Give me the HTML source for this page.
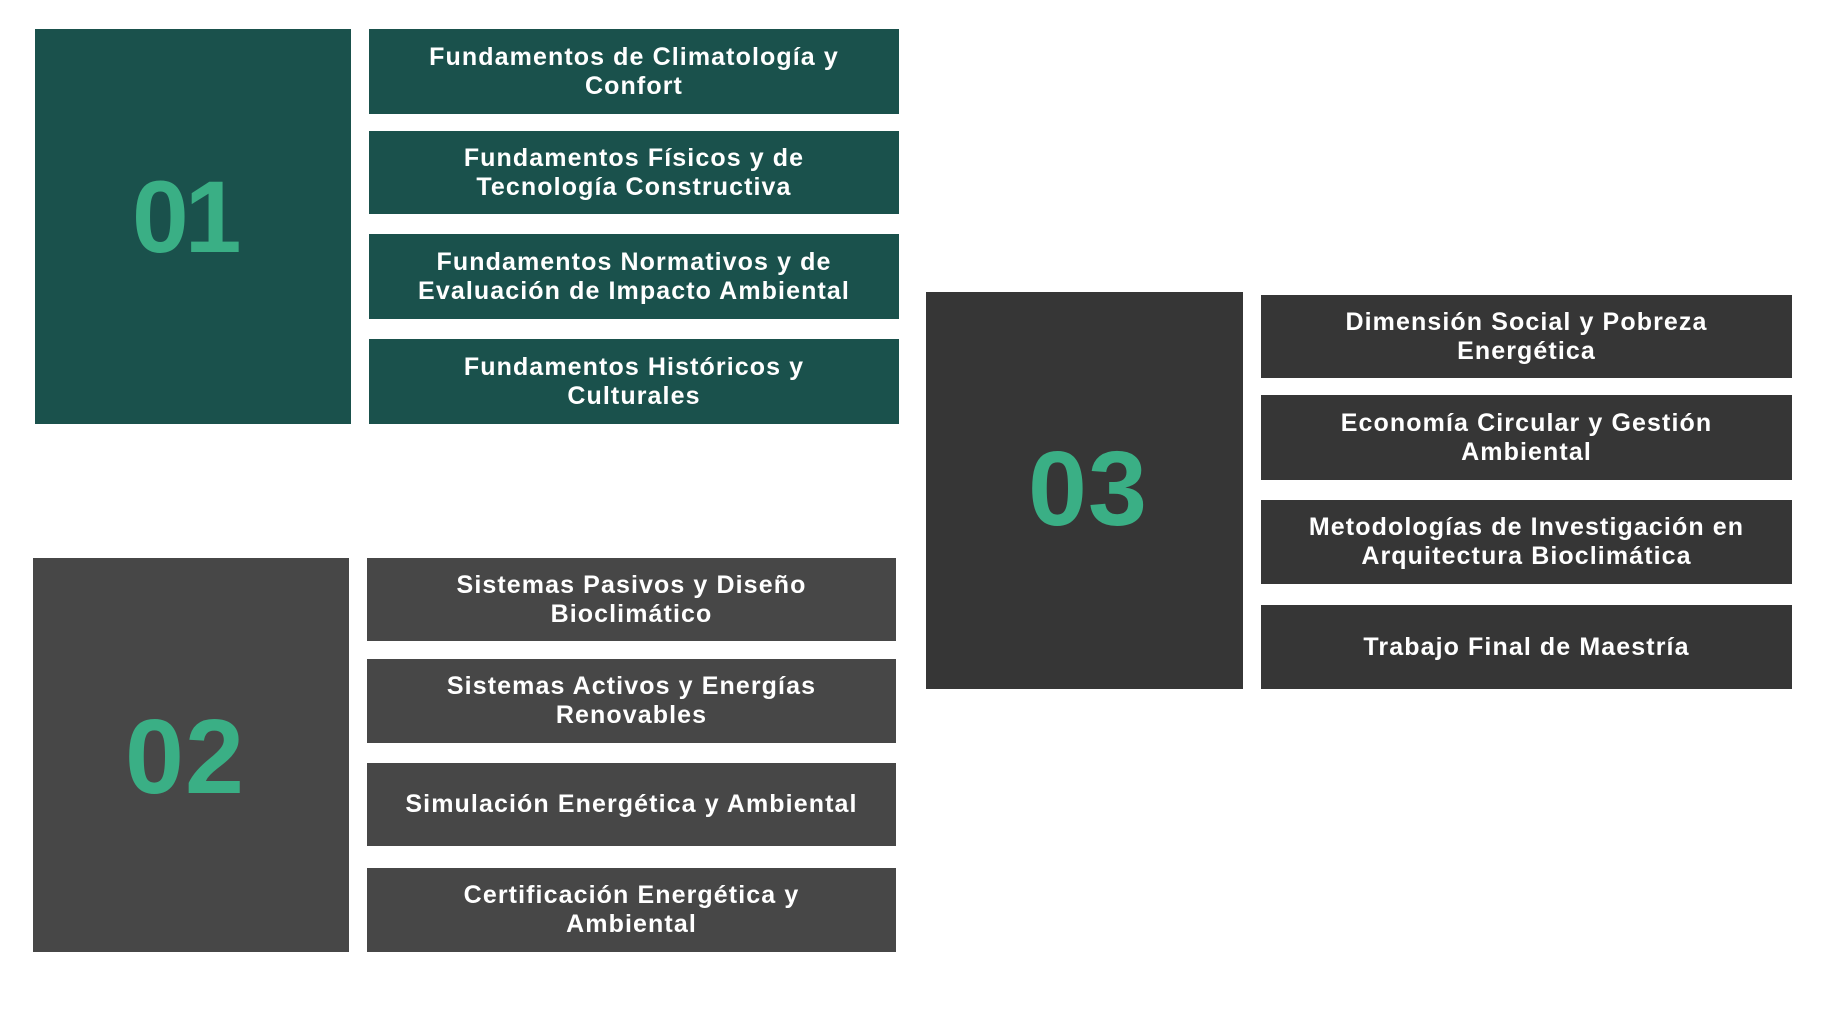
<!DOCTYPE html>
<html><head><meta charset="utf-8"><style>
body{margin:0;width:1834px;height:1021px;background:#fff;position:relative;overflow:hidden;font-family:"Liberation Sans",sans-serif}
.b{position:absolute}
.g{background:#1a514c}.d{background:#474747}.k{background:#363636}
.i{position:absolute;display:flex;align-items:center;justify-content:center;text-align:center;color:#fff;font-weight:bold;font-size:25px;line-height:29px;letter-spacing:1.1px}
.n{position:absolute;color:#3aaf85;font-weight:bold;font-size:102px;line-height:102px;letter-spacing:-4px}
</style></head><body>
<div class="b g" style="left:35px;top:29px;width:316px;height:395px"></div>
<div class="n" style="left:132px;top:166px">01</div>
<div class="i g" style="left:369px;top:29px;width:530px;height:85px">Fundamentos de Climatología y<br>Confort</div>
<div class="i g" style="left:369px;top:131px;width:530px;height:83px">Fundamentos Físicos y de<br>Tecnología Constructiva</div>
<div class="i g" style="left:369px;top:234px;width:530px;height:85px">Fundamentos Normativos y de<br>Evaluación de Impacto Ambiental</div>
<div class="i g" style="left:369px;top:339px;width:530px;height:85px">Fundamentos Históricos y<br>Culturales</div>

<div class="b d" style="left:33px;top:558px;width:316px;height:394px"></div>
<div class="n" style="left:125px;top:706px;letter-spacing:1px;font-size:106px">02</div>
<div class="i d" style="left:367px;top:558px;width:529px;height:83px">Sistemas Pasivos y Diseño<br>Bioclimático</div>
<div class="i d" style="left:367px;top:659px;width:529px;height:84px">Sistemas Activos y Energías<br>Renovables</div>
<div class="i d" style="left:367px;top:763px;width:529px;height:83px">Simulación Energética y Ambiental</div>
<div class="i d" style="left:367px;top:868px;width:529px;height:84px">Certificación Energética y<br>Ambiental</div>

<div class="b k" style="left:926px;top:292px;width:317px;height:397px"></div>
<div class="n" style="left:1028px;top:438px;letter-spacing:1px;font-size:106px">03</div>
<div class="i k" style="left:1261px;top:295px;width:531px;height:83px">Dimensión Social y Pobreza<br>Energética</div>
<div class="i k" style="left:1261px;top:395px;width:531px;height:85px">Economía Circular y Gestión<br>Ambiental</div>
<div class="i k" style="left:1261px;top:500px;width:531px;height:84px">Metodologías de Investigación en<br>Arquitectura Bioclimática</div>
<div class="i k" style="left:1261px;top:605px;width:531px;height:84px">Trabajo Final de Maestría</div>
</body></html>
